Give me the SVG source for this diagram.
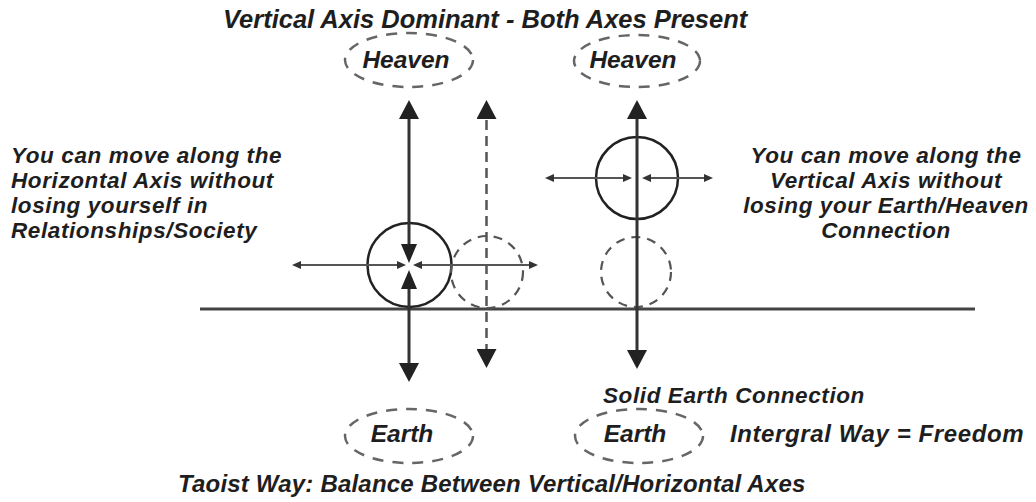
<svg xmlns="http://www.w3.org/2000/svg" width="1036" height="502" viewBox="0 0 1036 502">
  <style>
    .t { font-family: "Liberation Sans", Arial, sans-serif; font-weight: bold; font-style: italic; fill: #1e1e1e; }
    .title { font-size: 25.5px; }
    .btitle { font-size: 24px; letter-spacing: 0.2px; }
    .lbl { font-size: 22.5px; letter-spacing: 0.6px; }
    .big { font-size: 24px; letter-spacing: 0.6px; }
    .node { font-size: 24.5px; }
    .axis { stroke: #333; stroke-width: 3; fill: none; }
    .dax { stroke: #555; stroke-width: 2.5; fill: none; stroke-dasharray: 10 6; }
    .harr { stroke: #555; stroke-width: 2; fill: none; }
    .ring { stroke: #222; stroke-width: 2.5; fill: none; }
    .dring { stroke: #555; stroke-width: 2.2; fill: none; stroke-dasharray: 9 7; }
    .oval { stroke: #666; stroke-width: 2.5; fill: none; stroke-dasharray: 11 9; }
    .ground { stroke: #444; stroke-width: 3; fill: none; }
  </style>
  <defs>
    <marker id="big" markerUnits="userSpaceOnUse" markerWidth="20" markerHeight="20" refX="15" refY="10" orient="auto-start-reverse">
      <path d="M0,0 L19,10 L0,20 Z" fill="#222"/>
    </marker>
    <marker id="mid" markerUnits="userSpaceOnUse" markerWidth="20" markerHeight="16" refX="15" refY="8" orient="auto-start-reverse">
      <path d="M0,0 L19,8 L0,16 Z" fill="#222"/>
    </marker>
    <marker id="small" markerUnits="userSpaceOnUse" markerWidth="10" markerHeight="8" refX="7" refY="4" orient="auto-start-reverse">
      <path d="M0,0 L9,4 L0,8 Z" fill="#333"/>
    </marker>
  </defs>

  <rect width="1036" height="502" fill="#ffffff"/>

  <text class="t title" x="223" y="28">Vertical Axis Dominant - Both Axes Present</text>

  <g id="heaven-left">
    <ellipse class="oval" cx="409" cy="60" rx="64" ry="27"/>
    <text class="t node" x="406" y="68" text-anchor="middle">Heaven</text>
  </g>
  <g id="heaven-right">
    <ellipse class="oval" cx="637" cy="61" rx="63" ry="26"/>
    <text class="t node" x="633" y="68" text-anchor="middle">Heaven</text>
  </g>

  <g id="note-left">
    <text class="t lbl" x="11" y="163">You can move along the</text>
    <text class="t lbl" x="11" y="188">Horizontal Axis without</text>
    <text class="t lbl" x="11" y="213">losing yourself in</text>
    <text class="t lbl" x="11" y="238">Relationships/Society</text>
  </g>
  <g id="note-right">
    <text class="t lbl" x="886" y="163" text-anchor="middle">You can move along the</text>
    <text class="t lbl" x="886" y="188" text-anchor="middle">Vertical Axis without</text>
    <text class="t lbl" x="886" y="213" text-anchor="middle">losing your Earth/Heaven</text>
    <text class="t lbl" x="886" y="238" text-anchor="middle">Connection</text>
  </g>

  <g id="ground">
    <path class="ground" d="M200,309 L975,309"/>
  </g>

  <g id="self-left">
    <circle class="ring" cx="409.5" cy="265" r="42"/>
  </g>
  <g id="self-left-shift">
    <circle class="dring" cx="487" cy="272" r="36"/>
  </g>
  <g id="self-right">
    <circle class="ring" cx="637" cy="178" r="41"/>
  </g>
  <g id="self-right-shift">
    <circle class="dring" cx="636" cy="272" r="35"/>
  </g>

  <g id="connectors">
    <path class="axis" d="M409,259 L409,104" marker-start="url(#mid)" marker-end="url(#big)"/>
    <path class="axis" d="M409,274 L409,378" marker-start="url(#mid)" marker-end="url(#big)"/>
    <path class="harr" d="M404,265 L294,265" marker-start="url(#small)" marker-end="url(#small)"/>
    <path class="harr" d="M415,265 L536,265" marker-start="url(#small)" marker-end="url(#small)"/>
    <path class="dax" d="M486.5,104 L486.5,364" marker-start="url(#big)" marker-end="url(#big)"/>
    <path class="axis" d="M637,104 L637,365" marker-start="url(#big)" marker-end="url(#big)"/>
    <path class="harr" d="M630,178 L547,178" marker-start="url(#small)" marker-end="url(#small)"/>
    <path class="harr" d="M644,178 L711,178" marker-start="url(#small)" marker-end="url(#small)"/>
  </g>

  <g id="earth-left">
    <ellipse class="oval" cx="409" cy="436" rx="64" ry="27"/>
    <text class="t node" x="402" y="442" text-anchor="middle">Earth</text>
  </g>
  <g id="earth-right">
    <ellipse class="oval" cx="639" cy="436" rx="64" ry="27"/>
    <text class="t node" x="635" y="442" text-anchor="middle">Earth</text>
  </g>

  <text class="t lbl" x="603" y="403">Solid Earth Connection</text>
  <text class="t big" x="730" y="442">Intergral Way = Freedom</text>

  <text class="t btitle" x="178" y="492">Taoist Way: Balance Between Vertical/Horizontal Axes</text>
</svg>
